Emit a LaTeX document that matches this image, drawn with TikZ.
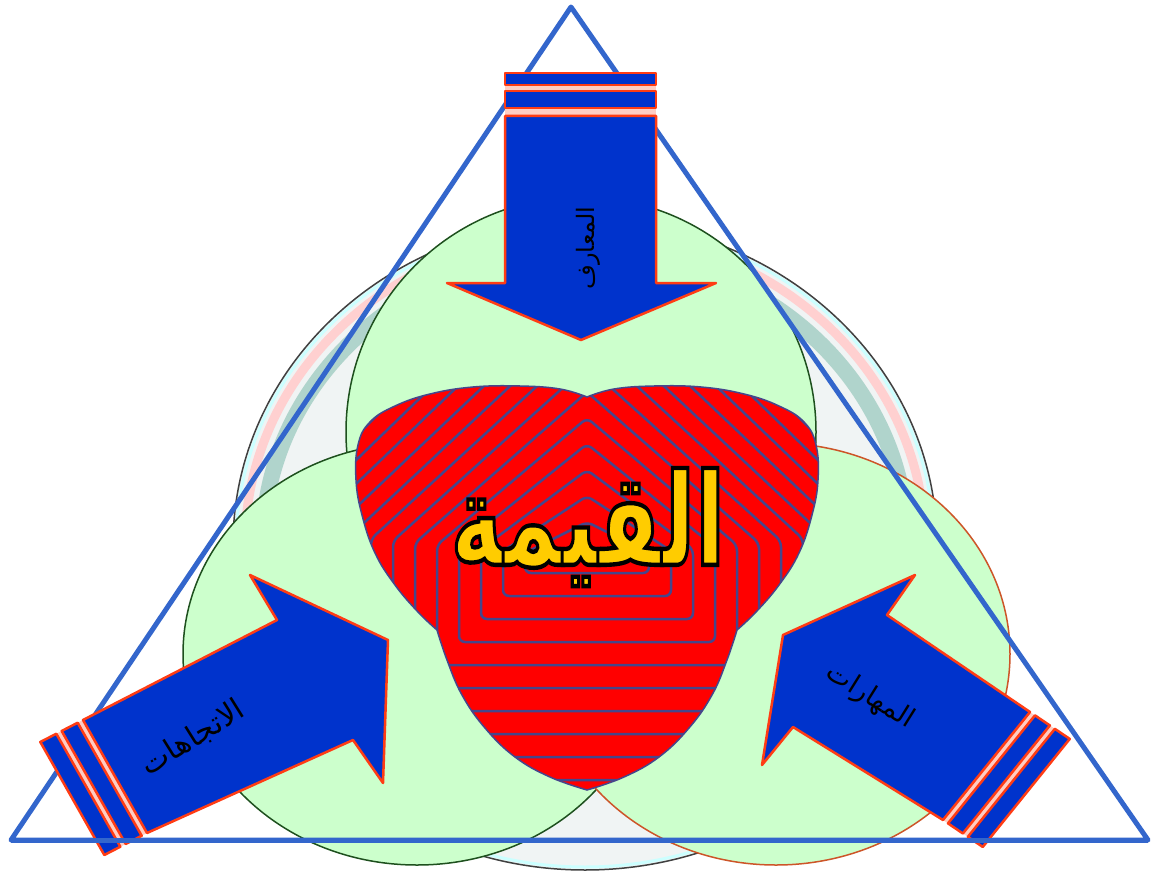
\documentclass[tikz,border=0pt]{standalone}
\usepackage{fontspec}
\newfontfamily\arabicfont[Script=Arabic]{DejaVu Sans}
\TeXXeTstate=1
\usetikzlibrary{calc}
\definecolor{tri}{RGB}{51,102,204}
\definecolor{arrblue}{RGB}{0,51,204}
\definecolor{arredge}{RGB}{255,60,20}
\definecolor{gapcol}{RGB}{255,205,195}
\definecolor{lgreen}{RGB}{204,255,204}
\definecolor{dgreen}{RGB}{30,80,30}
\definecolor{oedge}{RGB}{205,85,40}
\definecolor{stripe}{RGB}{70,70,140}
\definecolor{gold}{RGB}{255,204,0}
\definecolor{shadowfill}{RGB}{240,244,244}
\definecolor{pinkband}{RGB}{255,208,208}
\definecolor{cyanband}{RGB}{204,255,255}
\definecolor{tealband}{RGB}{176,212,204}
\def\redpath{plot[smooth,tension=0.7] coordinates {(587,397) (560,389) (520,386) (473,387) (430,394) (395,406) (370,422) (358,445) (356,480) (362,515) (375,553) (395,585) (418,612) (437,630)} -- plot[smooth,tension=0.7] coordinates {(437,630) (447,660) (462,695) (485,728) (515,757) (550,777) (587,790)} -- plot[smooth,tension=0.7] coordinates {(587,790) (624,777) (659,757) (689,728) (712,695) (727,660) (737,630)} -- plot[smooth,tension=0.7] coordinates {(737,630) (756,612) (779,585) (799,553) (812,515) (818,480) (816,445) (804,422) (779,406) (744,394) (701,387) (654,386) (614,389) (587,397)} -- cycle}
\newcommand\titleword{\special{pdf:literal direct 2 Tr 3 w 0 0 0 RG}\arabicfont\bfseries\beginR القيمة\endR\special{pdf:literal direct 0 Tr}}
\begin{document}
\begin{tikzpicture}[x=1pt,y=-1pt,
  arrowbody/.style={fill=arrblue, draw=arredge, line width=2.5, line join=round},
  gapfill/.style={fill=gapcol},
  greenshape/.style={fill=lgreen, line width=1.5},
  lbl/.style={font=\arabicfont\fontsize{24}{28}\selectfont, text=black, inner sep=0},
  titlestyle/.style={font=\fontsize{88}{100}\selectfont, inner sep=0, yscale=1.45},
  triline/.style={draw=tri, line width=5, line join=round}]
\useasboundingbox (0,0) rectangle (1157,872);
\fill[white] (0,0) rectangle (1157,872);

% shadow ellipse behind
\fill[shadowfill] (585,545) ellipse [x radius=352, y radius=325];
\begin{scope}
\clip (0,0) rectangle (1157,560);
\draw[tealband, line width=16] (585,545) ellipse [x radius=322, y radius=295];
\draw[pinkband, line width=9] (585,545) ellipse [x radius=340, y radius=313];
\end{scope}
\draw[cyanband, line width=3] (585,545) ellipse [x radius=349, y radius=322];
\draw[black!75, line width=1.5] (585,545) ellipse [x radius=352, y radius=325];

% green circles
\filldraw[greenshape, draw=dgreen] (581,432) circle [radius=235];
\filldraw[greenshape, draw=dgreen] (417,654) ellipse [x radius=234, y radius=211];
\filldraw[greenshape, draw=oedge] (776,654) ellipse [x radius=234, y radius=211];

% red centre
\begin{scope}
\clip \redpath;
\fill[red] (300,350) rectangle (880,820);
\foreach \k in {1,...,13} {
  \draw[stripe, line width=2.5, rounded corners=6]
    ({587-(40+22*\k)},{555-2*\k}) -- (587,{548-26*\k}) -- ({587+40+22*\k},{555-2*\k})
    -- ({587+40+22*\k},{550+23*\k}) -- ({587-(40+22*\k)},{550+23*\k}) -- cycle;
}
\end{scope}
\draw[stripe, line width=1.5] \redpath;

% title
\node[titlestyle, text=gold] (title) at (588,527) {\titleword};

% triangle
\coordinate (A) at (571,7);
\coordinate (L) at (11,840);
\coordinate (R) at (1148,840);
\draw[triline] (A) -- (L) -- (R) -- cycle;

% left arrow
\coordinate (LB1) at (83,720);
\coordinate (LN1) at (277,620);
\coordinate (LW1) at (250,575);
\coordinate (LC1) at (388,640);
\coordinate (LC2) at (383,783);
\coordinate (LN2) at (353,740);
\coordinate (LB4) at (147,833);
\coordinate (lv) at (-0.889,0.458);
\fill[gapfill] ($(LB1)+0*(lv)$) -- ($(LB4)+0*(lv)$) -- ($(LB4)+6*(lv)$) -- ($(LB1)+6*(lv)$) -- cycle;
\fill[gapfill] ($(LB1)+24*(lv)$) -- ($(LB4)+24*(lv)$) -- ($(LB4)+30*(lv)$) -- ($(LB1)+30*(lv)$) -- cycle;
\filldraw[arrowbody] ($(LB1)+6*(lv)$) -- ($(LB4)+6*(lv)$) -- ($(LB4)+24*(lv)$) -- ($(LB1)+24*(lv)$) -- cycle;
\filldraw[arrowbody] ($(LB1)+30*(lv)$) -- ($(LB4)+30*(lv)$) -- ($(LB4)+48*(lv)$) -- ($(LB1)+48*(lv)$) -- cycle;
\filldraw[arrowbody] (LB1) -- (LN1) -- (LW1) -- (LC1) -- (LC2) -- (LN2) -- (LB4) -- cycle;

% right arrow
\coordinate (RB1) at (1030,712);
\coordinate (RN1) at (887,615);
\coordinate (RW1) at (915,575);
\coordinate (RC1) at (783,635);
\coordinate (RC2) at (762,765);
\coordinate (RN2) at (793,727);
\coordinate (RB4) at (943,820);
\coordinate (rv) at (0.828,0.561);
\fill[gapfill] ($(RB1)+0*(rv)$) -- ($(RB4)+0*(rv)$) -- ($(RB4)+6*(rv)$) -- ($(RB1)+6*(rv)$) -- cycle;
\fill[gapfill] ($(RB1)+24*(rv)$) -- ($(RB4)+24*(rv)$) -- ($(RB4)+30*(rv)$) -- ($(RB1)+30*(rv)$) -- cycle;
\filldraw[arrowbody] ($(RB1)+6*(rv)$) -- ($(RB4)+6*(rv)$) -- ($(RB4)+24*(rv)$) -- ($(RB1)+24*(rv)$) -- cycle;
\filldraw[arrowbody] ($(RB1)+30*(rv)$) -- ($(RB4)+30*(rv)$) -- ($(RB4)+48*(rv)$) -- ($(RB1)+48*(rv)$) -- cycle;
\filldraw[arrowbody] (RB1) -- (RN1) -- (RW1) -- (RC1) -- (RC2) -- (RN2) -- (RB4) -- cycle;

% bottom edge of the triangle over the arrows
\draw[triline] (L) -- (R);

% top arrow
\fill[gapfill] (505,85) rectangle (656,91);
\fill[gapfill] (505,108) rectangle (656,116);
\filldraw[arrowbody] (505,73) rectangle (656,85);
\filldraw[arrowbody] (505,91) rectangle (656,108);
\filldraw[arrowbody] (505,116) -- (505,283) -- (447,283) -- (581,340) -- (716,283) -- (656,283) -- (656,116) -- cycle;

% labels
\node[lbl, rotate=90] (lt) at (588,248) {\beginR المعارف\endR};
\node[lbl, rotate=32, font=\arabicfont\fontsize{30}{34}\selectfont] (ll) at (193,738) {\beginR الاتجاهات\endR};
\node[lbl, rotate=-32, font=\arabicfont\fontsize{27}{31}\selectfont] (lr) at (870,697) {\beginR المهارات\endR};
\end{tikzpicture}
\end{document}
